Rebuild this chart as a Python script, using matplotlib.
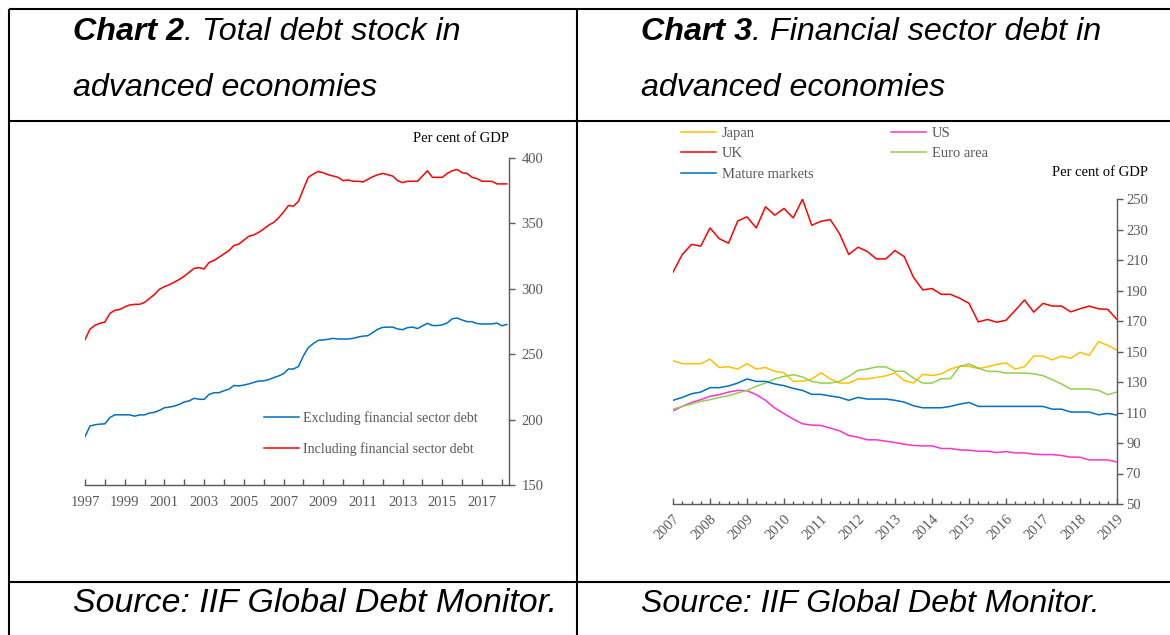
import numpy as np
import matplotlib
matplotlib.use('Agg')
import matplotlib.pyplot as plt
from matplotlib.ticker import FixedLocator, MultipleLocator

W, H = 1170, 635
GREY = '#595959'
SERIF = 'Liberation Serif'
SANS = 'Liberation Sans'
FS = 10.5

# ---- chart 2: total debt stock, quarterly from 1997Q1 ----
incl_fin = [261, 269, 272, 273.5, 274.5, 281, 283.5, 284, 286, 287.5,
            288, 288, 289.5, 292.5, 295.5, 299.5, 301.5, 303, 305, 307,
            309.5, 312.5, 315.5, 316, 315, 320, 321.5, 324, 326.5, 329,
            333, 334, 337, 340, 341, 343, 345.5, 348.5, 350.5, 354,
            358.5, 363.5, 363, 366.5, 376, 385, 387.5, 389.5, 388.5, 387,
            386, 385, 382.5, 383, 382, 382, 381.5, 383.5, 385.5, 387,
            388, 387, 386, 382.5, 381, 382, 382, 382, 386, 390,
            385, 385, 385, 388, 390, 391, 388.5, 388, 385, 384,
            382, 382, 382, 380, 380, 380]
excl_fin = [187, 195, 196, 196.5, 196.7, 201.5, 203.6, 203.6, 203.6, 203.6,
            202.6, 203.5, 203.6, 205, 205.5, 207, 209, 209.5, 210.3, 211.6,
            213.4, 214.3, 216.2, 215.5, 215.4, 219.2, 220.5, 220.5, 222, 223.2,
            226, 225.7, 226.3, 227.2, 228.4, 229.4, 229.5, 230.5, 232, 233.3,
            235, 238.6, 238.6, 240.5, 248.5, 255, 258, 260.5, 260.8, 261.3,
            262, 261.5, 261.5, 261.5, 262, 263, 263.7, 264, 266.5, 269,
            270.4, 270.6, 270.6, 269.2, 268.6, 270.2, 270.6, 269.5, 271.5, 273.5,
            271.8, 271.8, 272.3, 273.8, 277, 277.5, 276, 274.8, 274.7, 273.3,
            273, 273, 273, 273.7, 271.6, 272.6]
t2 = 1997 + np.arange(len(incl_fin)) / 4.0

# ---- chart 3: financial sector debt, quarterly 2007Q1-2019Q1 ----
japan = [144, 142, 142, 142, 145, 139.5, 140, 138.5, 142, 138.5, 139.5, 137, 136,
         130.5, 130.5, 132, 136, 132, 129.3, 129.3, 132, 132, 133, 134, 136, 131,
         129.3, 135, 134.3, 135.3, 138.5, 140.3, 140.3, 138.8, 140, 141.5, 142.5,
         138.5, 140, 147, 147, 144.5, 147, 145.5, 149.5, 147.5, 156.5, 154, 151]
us = [111.1, 114, 116.6, 118.4, 120.6, 121.7, 123.4, 124.5, 124.3, 121.7, 118, 112.9,
      109.2, 105.7, 102.6, 101.7, 101.5, 99.8, 98, 94.9, 93.8, 92.1, 92.1, 91.2, 90.3,
      89.2, 88.4, 88.1, 88.1, 86.4, 86.4, 85.5, 85.3, 84.6, 84.6, 83.7, 84.4, 83.5,
      83.5, 82.7, 82.4, 82.4, 81.8, 80.7, 80.7, 78.9, 78.9, 78.9, 77.6]
uk = [202, 213.6, 220.2, 219.1, 231, 224, 221, 235.6, 238.3, 231, 244.9, 239.4, 243.8,
      237.6, 249.8, 232.8, 235.4, 236.5, 227.3, 213.6, 218.4, 215.6, 210.7, 210.7,
      216.2, 212.2, 198.6, 190.4, 191.3, 187.5, 187.5, 184.9, 181.6, 169.4, 171, 169.2,
      170.5, 176.9, 183.8, 175.8, 181.6, 179.8, 179.8, 176, 178, 179.8, 178, 177.6, 171]
euro = [112.2, 114, 115.5, 117.3, 118.4, 119.9, 121, 122.8, 124.5, 127.2, 129.3, 132,
        133.7, 134.8, 133.3, 130.4, 129.3, 129.3, 130.4, 133.7, 137.7, 138.5, 139.9,
        139.9, 137, 137, 132.6, 129.3, 129.3, 132.2, 132.2, 140.3, 141.8, 139.2, 137,
        137, 135.9, 135.9, 135.9, 135.3, 134.2, 131.5, 128.7, 125.4, 125.4, 125.4,
        124.5, 121.7, 123.4]
mature = [118, 119.9, 122.3, 123.4, 126.3, 126.3, 127.4, 129.3, 132, 130.4, 130.4,
          128.7, 127.6, 125.8, 124.5, 121.9, 121.9, 120.8, 119.9, 118, 119.9, 118.8,
          118.8, 118.8, 118, 116.8, 114.4, 113.1, 113.1, 113.1, 114, 115.5, 116.6, 114,
          114, 114, 114, 114, 114, 114, 114, 112.2, 112.2, 110.3, 110.3, 110.3, 108.5,
          109.4, 108.3]
t3 = 2007 + np.arange(len(uk)) / 4.0


def box(x0, y0, x1, y1):
    return [x0 / W, 1 - y1 / H, (x1 - x0) / W, (y1 - y0) / H]


fig = plt.figure(figsize=(W / 100, H / 100), dpi=100)

# background: table grid, titles, sources (pixel coords)
bg = fig.add_axes([0, 0, 1, 1])
bg.set_xlim(0, W)
bg.set_ylim(H, 0)
bg.axis('off')
for xs, ys in [([9, W], [9, 9]), ([9, W], [121, 121]), ([9, W], [582, 582]),
               ([9, 9], [9, H]), ([577, 577], [9, H])]:
    bg.plot(xs, ys, color='black', lw=1.5, solid_capstyle='butt')


def title(x, y, bold, rest):
    a = bg.text(x, y, bold, fontsize=23.2, fontstyle='italic', fontweight='bold',
                family=SANS, va='baseline')
    bg.annotate(rest, xy=(1, 0), xycoords=a, va='bottom', ha='left',
                fontsize=23.2, fontstyle='italic', family=SANS)


title(73, 40, 'Chart 2', '. Total debt stock in')
bg.text(73, 96, 'advanced economies', fontsize=23.2, fontstyle='italic', family=SANS, va='baseline')
title(641, 40, 'Chart 3', '. Financial sector debt in')
bg.text(641, 96, 'advanced economies', fontsize=23.2, fontstyle='italic', family=SANS, va='baseline')
bg.text(73, 612, 'Source: IIF Global Debt Monitor.', fontsize=24.4, fontstyle='italic',
        family=SANS, va='baseline')
bg.text(641, 612, 'Source: IIF Global Debt Monitor.', fontsize=23.1, fontstyle='italic',
        family=SANS, va='baseline')
bg.text(509, 139, 'Per cent of GDP', fontsize=FS, family=SERIF, ha='right', va='center')
bg.text(1148, 172, 'Per cent of GDP', fontsize=FS, family=SERIF, ha='right', va='center')


def style(ax):
    ax.set_facecolor('none')
    for s in ['top', 'left']:
        ax.spines[s].set_visible(False)
    for s in ['bottom', 'right']:
        ax.spines[s].set_color(GREY)
        ax.spines[s].set_linewidth(1.0)
    ax.yaxis.tick_right()
    ax.tick_params(axis='y', which='both', direction='out', length=4, width=1,
                   color=GREY, labelcolor=GREY, labelsize=FS, pad=5)


# ---- chart 2 ----
ax2 = fig.add_axes(box(85, 157.7, 509, 485))
l_ex, = ax2.plot(t2, excl_fin, color='#0070C0', lw=1.1)
l_in, = ax2.plot(t2, incl_fin, color='#FF0000', lw=1.1)
ax2.set_xlim(1997, 2018.36)
ax2.set_ylim(150, 400)
ax2.set_yticks([150, 200, 250, 300, 350, 400])
ax2.xaxis.set_major_locator(FixedLocator(np.arange(1997, 2018, 2)))
ax2.xaxis.set_minor_locator(FixedLocator(np.arange(1998, 2019, 2)))
ax2.set_xticklabels([str(y) for y in range(1997, 2018, 2)])
style(ax2)
ax2.tick_params(axis='x', which='both', direction='in', length=4, width=1,
                color=GREY, labelcolor=GREY, labelsize=FS, pad=8)
for lab in ax2.get_xticklabels() + ax2.get_yticklabels():
    lab.set_family(SERIF)
ax2.legend([l_ex, l_in], ['Excluding financial sector debt', 'Including financial sector debt'],
           loc='upper left', bbox_to_anchor=(264 / W, 1 - 411 / H),
           bbox_transform=fig.transFigure, frameon=False, borderpad=0, borderaxespad=0,
           handlelength=2.5, handletextpad=0.3, labelspacing=1.22, labelcolor=GREY,
           prop={'family': SERIF, 'size': 10.1})

# ---- chart 3 ----
ax3 = fig.add_axes(box(673, 199, 1117, 504))
h_jp, = ax3.plot(t3, japan, color='#FFC000', lw=1.1)
h_us, = ax3.plot(t3, us, color='#FF33CC', lw=1.1)
h_uk, = ax3.plot(t3, uk, color='#FF0000', lw=1.1)
h_eu, = ax3.plot(t3, euro, color='#92D050', lw=1.1)
h_mm, = ax3.plot(t3, mature, color='#0070C0', lw=1.1)
ax3.set_xlim(2007, 2019)
ax3.set_ylim(50, 250)
ax3.set_yticks(np.arange(50, 251, 20))
ax3.xaxis.set_major_locator(FixedLocator(np.arange(2007, 2020)))
ax3.xaxis.set_minor_locator(MultipleLocator(0.25))
style(ax3)
ax3.tick_params(axis='y', pad=2.5)
ax3.tick_params(axis='x', which='major', direction='in', length=4, width=1,
                color=GREY, labelcolor=GREY, labelsize=FS, pad=6)
ax3.tick_params(axis='x', which='minor', direction='in', length=2.5, width=1, color=GREY)
ax3.set_xticklabels([str(y) for y in range(2007, 2020)], rotation=45, ha='right',
                    va='top', rotation_mode='anchor')
for lab in ax3.get_xticklabels() + ax3.get_yticklabels():
    lab.set_family(SERIF)
ax3.legend([h_jp, h_uk, h_mm, h_us, h_eu],
           ['Japan', 'UK', 'Mature markets', 'US', 'Euro area'],
           ncol=2, loc='upper left', bbox_to_anchor=(681 / W, 1 - 127 / H),
           bbox_transform=fig.transFigure, frameon=False, borderpad=0, borderaxespad=0,
           handlelength=2.4, handletextpad=0.4, labelspacing=0.48, columnspacing=5.3,
           labelcolor=GREY, prop={'family': SERIF, 'size': FS})

fig.savefig('out.png', dpi=100)
